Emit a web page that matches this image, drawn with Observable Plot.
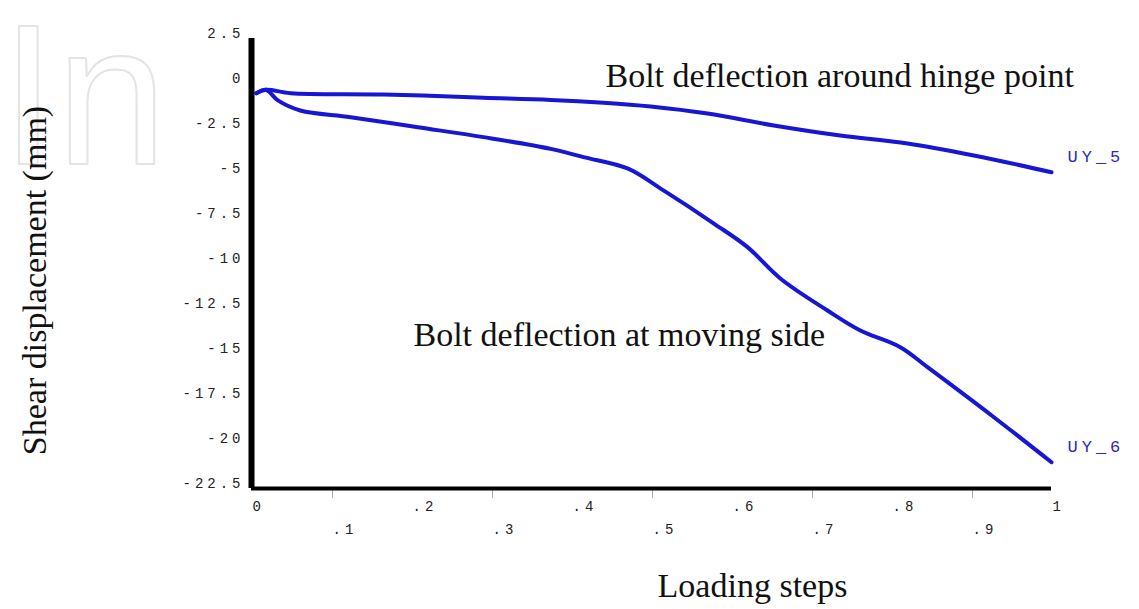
<!DOCTYPE html>
<html>
<head>
<meta charset="utf-8">
<script src="https://cdn.jsdelivr.net/npm/d3@7"></script>
<script src="https://cdn.jsdelivr.net/npm/@observablehq/plot@0.6"></script>
<style>
  html, body { margin: 0; padding: 0; background: #fff; }
  #chart { width: 1139px; height: 609px; }
  g[aria-label="y-axis tick label"] text,
  g[aria-label="x-axis tick label"] text { letter-spacing: 4px; }
  g.endlabel text { letter-spacing: 4px; }
</style>
</head>
<body>
<div id="chart"></div>
<script>
// Loading steps (x) and shear displacement (mm) for each bolt series
const steps5 = [0.006, 0.018, 0.049, 0.165, 0.29, 0.374, 0.44, 0.499, 0.57, 0.653, 0.736, 0.82, 0.903, 1.0];
const uy5    = [-0.54, -0.35, -0.54, -0.61, -0.79, -0.91, -1.07, -1.28, -1.67, -2.33, -2.89, -3.33, -4.0, -4.93];

const steps6 = [0.006, 0.018, 0.033, 0.061, 0.124, 0.208, 0.29, 0.374, 0.415, 0.47, 0.515, 0.578, 0.62, 0.661, 0.72, 0.761, 0.811, 0.845, 0.928, 1.0];
const uy6    = [-0.54, -0.35, -0.94, -1.5, -1.87, -2.43, -2.98, -3.63, -4.09, -4.72, -5.94, -7.78, -9.09, -10.83, -12.61, -13.72, -14.65, -15.76, -18.54, -21.04];

const seriesNames = ["UY_5", "UY_6"];
const yTicks = [2.5, 0, -2.5, -5, -7.5, -10, -12.5, -15, -17.5, -20, -22.5];
const xMajorTicks = [0, 0.2, 0.4, 0.6, 0.8, 1];
const xMinorTicks = [0.1, 0.3, 0.5, 0.7, 0.9];

const annotations = [
  {x: 0.4425, y: 0.39, text: "Bolt deflection around hinge point"},
  {x: 0.2025, y: -14.0, text: "Bolt deflection at moving side"}
];
const xTitle = "Loading steps";
const yTitle = "Shear displacement (mm)";

const d5 = steps5.map((x, i) => ({x, y: uy5[i]}));
const d6 = steps6.map((x, i) => ({x, y: uy6[i]}));
const ends = [
  {x: steps5[steps5.length - 1], y: uy5[uy5.length - 1], name: seriesNames[0]},
  {x: steps6[steps6.length - 1], y: uy6[uy6.length - 1], name: seriesNames[1]}
];

const fmtX = d => d === 0 ? "0" : d === 1 ? "1" : d3.format(".1f")(d).replace(/^0/, "");
const fmtY = d => String(d);
const mono = {fontFamily: "Liberation Mono, DejaVu Sans Mono, monospace", fontSize: 14, fill: "#222"};
const serif = {fontFamily: "Liberation Serif, DejaVu Serif, serif", fontSize: 34, fill: "#111"};
const blue = "#1616d4";

const chart = Plot.plot({
  width: 1139,
  height: 609,
  marginLeft: 251,
  marginRight: 88,
  marginTop: 38,
  marginBottom: 121,
  x: {domain: [0, 1], axis: null},
  y: {domain: [-22.5, 2.5], axis: null},
  style: {background: "#fff", overflow: "visible"},
  marks: [
    // faint watermark
    Plot.text(["In"], {frameAnchor: "top-left", dx: -251, dy: -17, fontSize: 200,
      fontFamily: "Liberation Sans, Arial, sans-serif", textAnchor: "start",
      fill: "none", stroke: "#e4e4e4", strokeWidth: 2}),
    Plot.axisY({ticks: yTicks, tickSize: 0, tickPadding: 7, dy: -5, tickFormat: fmtY, label: null, ...mono}),
    Plot.axisX({ticks: xMajorTicks, tickSize: 0, tickPadding: 13, textAnchor: "start", dx: 1, tickFormat: fmtX, label: null, ...mono}),
    Plot.axisX({ticks: xMinorTicks, tickSize: 10, stroke: "#aaa", tickPadding: 26, textAnchor: "start", dx: 1, tickFormat: fmtX, label: null, ...mono}),
    Plot.ruleX([0], {y1: -22.5, y2: 2.5, stroke: "#000", strokeWidth: 6}),
    Plot.ruleY([-22.5], {x1: 0, x2: 1, stroke: "#000", strokeWidth: 4}),
    Plot.line(d5, {x: "x", y: "y", stroke: blue, strokeWidth: 4, curve: "catmull-rom", strokeLinejoin: "round", strokeLinecap: "round"}),
    Plot.line(d6, {x: "x", y: "y", stroke: blue, strokeWidth: 4, curve: "catmull-rom", strokeLinejoin: "round", strokeLinecap: "round"}),
    Plot.text(ends, {x: "x", y: "y", text: "name", dx: 16, dy: -16, textAnchor: "start",
      fontFamily: "Liberation Mono, monospace", fontSize: 17, fill: "#2a2ac0", className: "endlabel"}),
    Plot.text(annotations, {x: "x", y: "y", text: "text", textAnchor: "start", ...serif}),
    Plot.text([yTitle], {frameAnchor: "left", textAnchor: "middle", dx: -216, dy: 17, rotate: -90, ...serif}),
    Plot.text([xTitle], {frameAnchor: "bottom", textAnchor: "middle", dx: 101, dy: 108, ...serif})
  ]
});
document.getElementById("chart").appendChild(chart);
</script>
</body>
</html>
